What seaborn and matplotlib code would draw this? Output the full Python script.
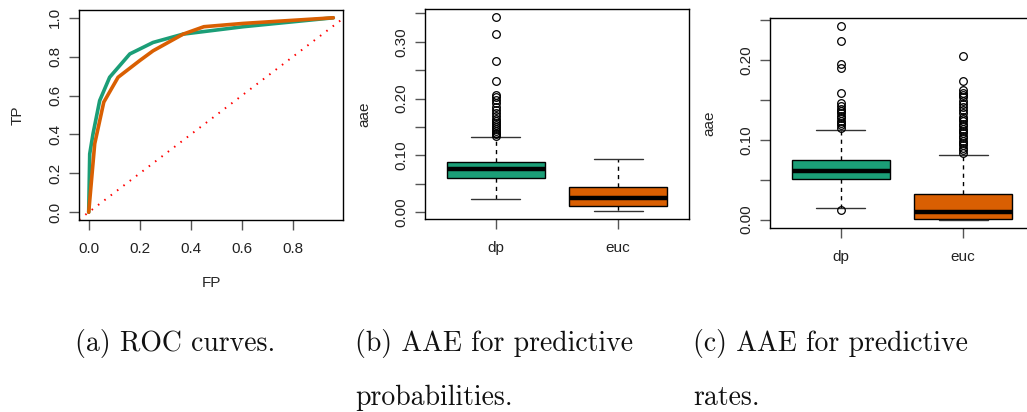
import matplotlib
matplotlib.use("Agg")
import matplotlib.pyplot as plt
import seaborn as sns
import pandas as pd
import numpy as np

# ROC curves (false positive rate, true positive rate)
dp_fp = [0.0, 0.004, 0.017, 0.043, 0.082, 0.161, 0.252, 0.370, 0.605, 0.958]
dp_tp = [0.0, 0.300, 0.404, 0.574, 0.694, 0.814, 0.873, 0.916, 0.954, 1.000]
euc_fp = [0.0, 0.0235, 0.059, 0.115, 0.200, 0.252, 0.370, 0.451, 0.605, 0.958]
euc_tp = [0.0, 0.352, 0.566, 0.694, 0.780, 0.830, 0.916, 0.954, 0.971, 1.000]

methods = ["dp", "euc"]

# AAE for predictive probabilities: five-number summaries and outliers
prob_q1 = [0.0606, 0.0106]
prob_med = [0.0770, 0.0253]
prob_q3 = [0.0887, 0.0440]
prob_wlo = [0.0240, 0.0018]
prob_whi = [0.1327, 0.0940]
prob_out_dp = [0.135, 0.137, 0.140, 0.143, 0.146, 0.150, 0.153, 0.157, 0.160,
               0.165, 0.170, 0.175, 0.180, 0.186, 0.192, 0.197, 0.203, 0.207,
               0.2306, 0.266, 0.314, 0.344]
prob_out_euc = []

# AAE for predictive rates
rate_q1 = [0.0508, 0.0013]
rate_med = [0.0610, 0.0096]
rate_q3 = [0.0750, 0.0325]
rate_wlo = [0.0142, 0.0000]
rate_whi = [0.1117, 0.0804]
rate_out_dp = [0.0117, 0.115, 0.118, 0.121, 0.124, 0.127, 0.130, 0.133, 0.136,
               0.139, 0.142, 0.146, 0.158, 0.190, 0.195, 0.224, 0.2425]
rate_out_euc = [0.084, 0.087, 0.090, 0.093, 0.096, 0.099, 0.102, 0.105, 0.108,
                0.111, 0.114, 0.117, 0.120, 0.123, 0.126, 0.129, 0.133, 0.137,
                0.141, 0.145, 0.149, 0.153, 0.156, 0.159, 0.1625, 0.174, 0.205]

GREEN = "#1B9E77"
ORANGE = "#D95F02"

sns.set_style("white")
plt.rcParams["font.family"] = ["Liberation Sans", "DejaVu Sans"]
plt.rcParams["axes.linewidth"] = 1.0

W, H = 1027, 412
fig = plt.figure(figsize=(W / 100, H / 100), dpi=100)


def px_axes(left, top, width, height):
    return fig.add_axes([left / W, (H - top - height) / H, width / W, height / H])


def style_axes(ax):
    for s in ax.spines.values():
        s.set_color("black")
        s.set_linewidth(1.0)
    ax.tick_params(axis="both", which="major", bottom=True, left=True,
                   top=False, right=False, direction="out", length=7,
                   width=1.0, color="#555555", labelsize=11, pad=5,
                   labelcolor="#222222")
    ax.tick_params(axis="x", pad=9)
    for lab in ax.get_yticklabels():
        lab.set_rotation(90)
        lab.set_va("center")


# ---- (a) ROC curves ----
ax1 = px_axes(79, 10, 264, 210)
roc = pd.concat([
    pd.DataFrame({"FP": dp_fp, "TP": dp_tp, "method": "dp"}),
    pd.DataFrame({"FP": euc_fp, "TP": euc_tp, "method": "euc"}),
])
ax1.axline((0, 0), slope=1, color="red", linestyle=(0, (0.8, 3.3)),
           linewidth=1.4, zorder=1)
sns.lineplot(data=roc, x="FP", y="TP", hue="method", palette=[GREEN, ORANGE],
             linewidth=2.6, sort=False, estimator=None, legend=False, ax=ax1, zorder=3)
ax1.set_xlim(-0.038, 0.996)
ax1.set_ylim(-0.04, 1.04)
ax1.set_xticks(np.arange(0, 0.81, 0.2))
ax1.set_xticklabels([f"{v:.1f}" for v in np.arange(0, 0.81, 0.2)])
ax1.set_yticks(np.arange(0, 1.01, 0.2))
ax1.set_yticklabels([f"{v:.1f}" for v in np.arange(0, 1.01, 0.2)])
ax1.set_xlabel("FP", fontsize=11)
ax1.set_ylabel("TP", fontsize=11)
style_axes(ax1)
ax1.yaxis.set_label_coords(-0.207, 0.5)
ax1.xaxis.set_label_coords(0.5, -0.265)


def draw_boxes(ax, q1, med, q3, wlo, whi, outliers):
    stats = []
    for i in range(len(methods)):
        stats.append({"label": methods[i], "q1": q1[i], "med": med[i], "q3": q3[i],
                      "whislo": wlo[i], "whishi": whi[i], "fliers": outliers[i]})
    bp = ax.bxp(stats, positions=[1, 2], widths=0.8, patch_artist=True,
                showfliers=True,
                boxprops=dict(edgecolor="black", linewidth=1.0),
                medianprops=dict(color="black", linewidth=3.2),
                whiskerprops=dict(color="black", linewidth=1.0, linestyle=(0, (3, 3))),
                capprops=dict(color="#333333", linewidth=1.0),
                capwidths=0.4,
                flierprops=dict(marker="o", markerfacecolor="none",
                                markeredgecolor="black", markersize=5.5,
                                markeredgewidth=0.9, linestyle="none"))
    for patch, c in zip(bp["boxes"], [GREEN, ORANGE]):
        patch.set_facecolor(c)
    ax.set_xlim(0.42, 2.58)
    ax.set_xticks([1, 2])
    ax.set_xticklabels(methods)
    ax.set_ylabel("aae", fontsize=11)


# ---- (b) AAE for predictive probabilities ----
ax2 = px_axes(425, 9, 264, 210)
draw_boxes(ax2, prob_q1, prob_med, prob_q3, prob_wlo, prob_whi,
           [prob_out_dp, prob_out_euc])
ax2.set_ylim(-0.0118, 0.3578)
yt = np.arange(0, 0.351, 0.05)
ax2.set_yticks(yt)
ax2.set_yticklabels([f"{v:.2f}" if round(v * 100) % 10 == 0 else "" for v in yt])
style_axes(ax2)
ax2.yaxis.set_label_coords(-0.205, 0.5)

# ---- (c) AAE for predictive rates ----
ax3 = px_axes(770, 18, 264, 210)
draw_boxes(ax3, rate_q1, rate_med, rate_q3, rate_wlo, rate_whi,
           [rate_out_dp, rate_out_euc])
ax3.set_ylim(-0.0104, 0.2522)
yt = np.arange(0, 0.251, 0.05)
ax3.set_yticks(yt)
ax3.set_yticklabels([f"{v:.2f}" if round(v * 100) % 10 == 0 else "" for v in yt])
style_axes(ax3)
ax3.yaxis.set_label_coords(-0.205, 0.5)

# ---- captions ----
cap = dict(fontfamily="cmr10", fontsize=20, color="#111111", va="center", ha="left")
fig.text(75 / W, 1 - 343 / H, "(a) ROC curves.", **cap)
fig.text(355 / W, 1 - 343 / H, "(b) AAE for predictive", **cap)
fig.text(355 / W, 1 - 398 / H, "probabilities.", **cap)
fig.text(693 / W, 1 - 343 / H, "(c) AAE for predictive", **cap)
fig.text(693 / W, 1 - 398 / H, "rates.", **cap)

fig.savefig("out.png", dpi=100)
